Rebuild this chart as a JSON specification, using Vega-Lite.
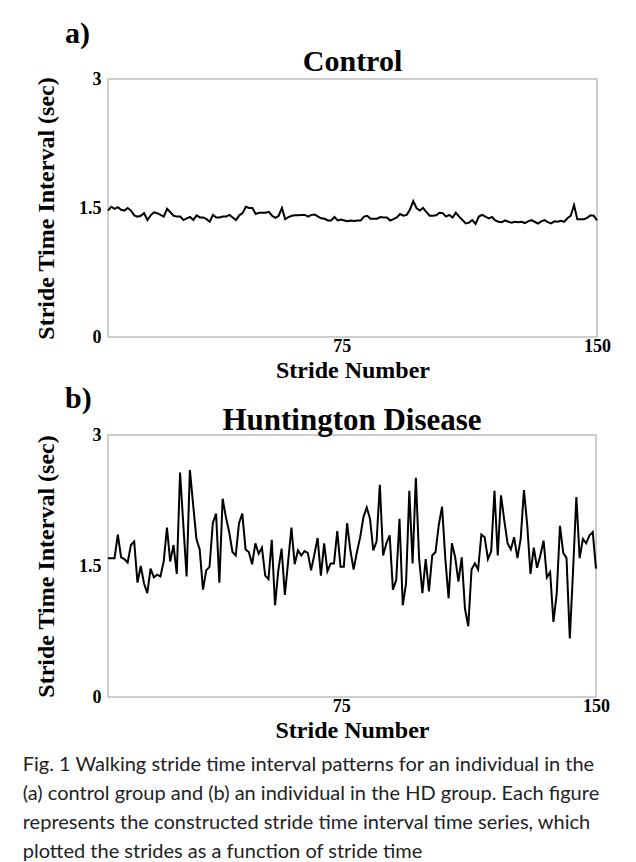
{
  "$schema": "https://vega.github.io/schema/vega-lite/v6.json",
  "background": "white",
  "padding": {"left": 22, "top": 18, "right": 0, "bottom": 0},
  "title": {
    "text": ["Fig. 1 Walking stride time interval patterns for an individual in the", "(a) control group and (b) an individual in the HD group. Each figure", "represents the constructed stride time interval time series, which", "plotted the strides as a function of stride time"],
    "orient": "bottom", "anchor": "start", "frame": "bounds", "font": "Lato", "fontSize": 20, "fontWeight": "normal", "color": "#222", "lineHeight": 29, "dx": -11, "offset": 12
  },
  "config": {
    "font": "Liberation Serif",
    "view": {"stroke": "#bdbdbd", "strokeWidth": 1.5},
    "axis": {"grid": false, "ticks": false, "domain": false, "labelFont": "Liberation Serif", "labelFontWeight": "bold", "labelFontSize": 18, "labelColor": "black", "titleFont": "Liberation Serif", "titleFontWeight": "bold", "titleFontSize": 24, "titleColor": "black"},
    "axisY": {"labelPadding": 7, "titlePadding": 20, "format": "~g"},
    "axisX": {"labelPadding": 0, "titlePadding": 3, "labelFlush": false},
    "title": {"font": "Liberation Serif", "fontWeight": "bold", "fontSize": 30, "color": "black", "anchor": "start", "frame": "group", "dx": -43, "offset": -2}
  },
  "spacing": 0,
  "datasets": {
    "control": [
      {"stride":1,"sec":1.47},{"stride":2,"sec":1.515},{"stride":3,"sec":1.49},{"stride":4,"sec":1.51},{"stride":5,"sec":1.48},{"stride":6,"sec":1.47},{"stride":7,"sec":1.5},{"stride":8,"sec":1.47},{"stride":9,"sec":1.415},{"stride":10,"sec":1.4},
      {"stride":11,"sec":1.41},{"stride":12,"sec":1.44},{"stride":13,"sec":1.36},{"stride":14,"sec":1.415},{"stride":15,"sec":1.45},{"stride":16,"sec":1.44},{"stride":17,"sec":1.42},{"stride":18,"sec":1.4},{"stride":19,"sec":1.49},{"stride":20,"sec":1.45},
      {"stride":21,"sec":1.41},{"stride":22,"sec":1.4},{"stride":23,"sec":1.4},{"stride":24,"sec":1.36},{"stride":25,"sec":1.38},{"stride":26,"sec":1.395},{"stride":27,"sec":1.36},{"stride":28,"sec":1.415},{"stride":29,"sec":1.39},{"stride":30,"sec":1.39},
      {"stride":31,"sec":1.37},{"stride":32,"sec":1.34},{"stride":33,"sec":1.42},{"stride":34,"sec":1.39},{"stride":35,"sec":1.39},{"stride":36,"sec":1.4},{"stride":37,"sec":1.4},{"stride":38,"sec":1.42},{"stride":39,"sec":1.39},{"stride":40,"sec":1.36},
      {"stride":41,"sec":1.415},{"stride":42,"sec":1.44},{"stride":43,"sec":1.515},{"stride":44,"sec":1.5},{"stride":45,"sec":1.5},{"stride":46,"sec":1.43},{"stride":47,"sec":1.445},{"stride":48,"sec":1.445},{"stride":49,"sec":1.445},{"stride":50,"sec":1.455},
      {"stride":51,"sec":1.41},{"stride":52,"sec":1.385},{"stride":53,"sec":1.41},{"stride":54,"sec":1.5},{"stride":55,"sec":1.37},{"stride":56,"sec":1.395},{"stride":57,"sec":1.41},{"stride":58,"sec":1.415},{"stride":59,"sec":1.415},{"stride":60,"sec":1.42},
      {"stride":61,"sec":1.42},{"stride":62,"sec":1.4},{"stride":63,"sec":1.42},{"stride":64,"sec":1.425},{"stride":65,"sec":1.4},{"stride":66,"sec":1.38},{"stride":67,"sec":1.375},{"stride":68,"sec":1.355},{"stride":69,"sec":1.355},{"stride":70,"sec":1.395},
      {"stride":71,"sec":1.355},{"stride":72,"sec":1.365},{"stride":73,"sec":1.355},{"stride":74,"sec":1.345},{"stride":75,"sec":1.355},{"stride":76,"sec":1.35},{"stride":77,"sec":1.355},{"stride":78,"sec":1.355},{"stride":79,"sec":1.4},{"stride":80,"sec":1.41},
      {"stride":81,"sec":1.375},{"stride":82,"sec":1.375},{"stride":83,"sec":1.375},{"stride":84,"sec":1.395},{"stride":85,"sec":1.39},{"stride":86,"sec":1.39},{"stride":87,"sec":1.355},{"stride":88,"sec":1.37},{"stride":89,"sec":1.39},{"stride":90,"sec":1.43},
      {"stride":91,"sec":1.41},{"stride":92,"sec":1.42},{"stride":93,"sec":1.48},{"stride":94,"sec":1.58},{"stride":95,"sec":1.5},{"stride":96,"sec":1.47},{"stride":97,"sec":1.5},{"stride":98,"sec":1.455},{"stride":99,"sec":1.41},{"stride":100,"sec":1.41},
      {"stride":101,"sec":1.415},{"stride":102,"sec":1.445},{"stride":103,"sec":1.44},{"stride":104,"sec":1.4},{"stride":105,"sec":1.42},{"stride":106,"sec":1.39},{"stride":107,"sec":1.445},{"stride":108,"sec":1.4},{"stride":109,"sec":1.36},{"stride":110,"sec":1.32},
      {"stride":111,"sec":1.33},{"stride":112,"sec":1.36},{"stride":113,"sec":1.315},{"stride":114,"sec":1.4},{"stride":115,"sec":1.42},{"stride":116,"sec":1.4},{"stride":117,"sec":1.38},{"stride":118,"sec":1.395},{"stride":119,"sec":1.355},{"stride":120,"sec":1.34},
      {"stride":121,"sec":1.335},{"stride":122,"sec":1.355},{"stride":123,"sec":1.34},{"stride":124,"sec":1.33},{"stride":125,"sec":1.34},{"stride":126,"sec":1.335},{"stride":127,"sec":1.34},{"stride":128,"sec":1.325},{"stride":129,"sec":1.345},{"stride":130,"sec":1.36},
      {"stride":131,"sec":1.34},{"stride":132,"sec":1.32},{"stride":133,"sec":1.345},{"stride":134,"sec":1.36},{"stride":135,"sec":1.335},{"stride":136,"sec":1.32},{"stride":137,"sec":1.345},{"stride":138,"sec":1.34},{"stride":139,"sec":1.35},{"stride":140,"sec":1.34},
      {"stride":141,"sec":1.38},{"stride":142,"sec":1.41},{"stride":143,"sec":1.535},{"stride":144,"sec":1.37},{"stride":145,"sec":1.37},{"stride":146,"sec":1.37},{"stride":147,"sec":1.385},{"stride":148,"sec":1.415},{"stride":149,"sec":1.41},{"stride":150,"sec":1.355}
    ],
    "hd": [
      {"stride":1,"sec":1.59},{"stride":2,"sec":1.59},{"stride":3,"sec":1.59},{"stride":4,"sec":1.86},{"stride":5,"sec":1.6},{"stride":6,"sec":1.58},{"stride":7,"sec":1.54},{"stride":8,"sec":1.74},{"stride":9,"sec":1.78},{"stride":10,"sec":1.31},
      {"stride":11,"sec":1.5},{"stride":12,"sec":1.3},{"stride":13,"sec":1.19},{"stride":14,"sec":1.47},{"stride":15,"sec":1.37},{"stride":16,"sec":1.4},{"stride":17,"sec":1.38},{"stride":18,"sec":1.55},{"stride":19,"sec":1.94},{"stride":20,"sec":1.55},
      {"stride":21,"sec":1.74},{"stride":22,"sec":1.41},{"stride":23,"sec":2.57},{"stride":24,"sec":1.97},{"stride":25,"sec":1.38},{"stride":26,"sec":2.6},{"stride":27,"sec":2.2},{"stride":28,"sec":1.81},{"stride":29,"sec":1.69},{"stride":30,"sec":1.23},
      {"stride":31,"sec":1.45},{"stride":32,"sec":1.49},{"stride":33,"sec":1.99},{"stride":34,"sec":2.1},{"stride":35,"sec":1.31},{"stride":36,"sec":2.27},{"stride":37,"sec":2.06},{"stride":38,"sec":1.89},{"stride":39,"sec":1.66},{"stride":40,"sec":1.62},
      {"stride":41,"sec":1.99},{"stride":42,"sec":2.1},{"stride":43,"sec":1.69},{"stride":44,"sec":1.66},{"stride":45,"sec":1.52},{"stride":46,"sec":1.76},{"stride":47,"sec":1.64},{"stride":48,"sec":1.71},{"stride":49,"sec":1.39},{"stride":50,"sec":1.35},
      {"stride":51,"sec":1.8},{"stride":52,"sec":1.05},{"stride":53,"sec":1.45},{"stride":54,"sec":1.7},{"stride":55,"sec":1.17},{"stride":56,"sec":1.55},{"stride":57,"sec":1.94},{"stride":58,"sec":1.52},{"stride":59,"sec":1.68},{"stride":60,"sec":1.62},
      {"stride":61,"sec":1.67},{"stride":62,"sec":1.65},{"stride":63,"sec":1.45},{"stride":64,"sec":1.63},{"stride":65,"sec":1.82},{"stride":66,"sec":1.39},{"stride":67,"sec":1.76},{"stride":68,"sec":1.44},{"stride":69,"sec":1.53},{"stride":70,"sec":1.53},
      {"stride":71,"sec":1.9},{"stride":72,"sec":1.49},{"stride":73,"sec":1.49},{"stride":74,"sec":1.99},{"stride":75,"sec":1.68},{"stride":76,"sec":1.46},{"stride":77,"sec":1.66},{"stride":78,"sec":1.83},{"stride":79,"sec":2.06},{"stride":80,"sec":2.17},
      {"stride":81,"sec":2.04},{"stride":82,"sec":1.68},{"stride":83,"sec":1.78},{"stride":84,"sec":2.43},{"stride":85,"sec":1.62},{"stride":86,"sec":1.76},{"stride":87,"sec":1.85},{"stride":88,"sec":1.23},{"stride":89,"sec":1.34},{"stride":90,"sec":2.04},
      {"stride":91,"sec":1.05},{"stride":92,"sec":1.3},{"stride":93,"sec":2.36},{"stride":94,"sec":1.53},{"stride":95,"sec":2.51},{"stride":96,"sec":1.58},{"stride":97,"sec":1.19},{"stride":98,"sec":1.58},{"stride":99,"sec":1.21},{"stride":100,"sec":1.62},
      {"stride":101,"sec":1.66},{"stride":102,"sec":1.97},{"stride":103,"sec":2.18},{"stride":104,"sec":1.58},{"stride":105,"sec":1.13},{"stride":106,"sec":1.76},{"stride":107,"sec":1.6},{"stride":108,"sec":1.32},{"stride":109,"sec":1.6},{"stride":110,"sec":1.01},
      {"stride":111,"sec":0.81},{"stride":112,"sec":1.46},{"stride":113,"sec":1.53},{"stride":114,"sec":1.46},{"stride":115,"sec":1.86},{"stride":116,"sec":1.83},{"stride":117,"sec":1.58},{"stride":118,"sec":1.67},{"stride":119,"sec":2.36},{"stride":120,"sec":1.62},
      {"stride":121,"sec":2.31},{"stride":122,"sec":2.02},{"stride":123,"sec":1.76},{"stride":124,"sec":1.69},{"stride":125,"sec":1.83},{"stride":126,"sec":1.59},{"stride":127,"sec":1.81},{"stride":128,"sec":2.37},{"stride":129,"sec":1.97},{"stride":130,"sec":1.41},
      {"stride":131,"sec":1.71},{"stride":132,"sec":1.48},{"stride":133,"sec":1.62},{"stride":134,"sec":1.79},{"stride":135,"sec":1.37},{"stride":136,"sec":1.43},{"stride":137,"sec":0.86},{"stride":138,"sec":1.18},{"stride":139,"sec":1.96},{"stride":140,"sec":1.65},
      {"stride":141,"sec":1.59},{"stride":142,"sec":0.67},{"stride":143,"sec":1.45},{"stride":144,"sec":2.29},{"stride":145,"sec":1.59},{"stride":146,"sec":1.81},{"stride":147,"sec":1.76},{"stride":148,"sec":1.85},{"stride":149,"sec":1.89},{"stride":150,"sec":1.47}
    ]
  },
  "vconcat": [
    {
      "width": 489, "height": 258,
      "title": {"text": "a)", "offset": -2},
      "layer": [
        {
          "data": {"name": "control"},
          "mark": {"type": "line", "color": "black", "strokeWidth": 2},
          "encoding": {
            "x": {"field": "stride", "type": "quantitative", "scale": {"domain": [1, 150], "nice": false, "zero": false}, "axis": {"values": [75, 150], "title": "Stride Number", "labelAlign": {"condition": {"test": "datum.value === 75", "value": "right"}, "value": "center"}}},
            "y": {"field": "sec", "type": "quantitative", "scale": {"domain": [0, 3], "nice": false}, "axis": {"values": [0, 1.5, 3], "title": "Stride Time Interval (sec)"}}
          }
        },
        {
          "data": {"values": [{"panel": "Control"}]},
          "mark": {"type": "text", "font": "Liberation Serif", "fontWeight": "bold", "fontSize": 30, "dy": -17, "baseline": "middle", "color": "black"},
          "encoding": {
            "x": {"datum": 75.5, "type": "quantitative"},
            "y": {"datum": 3, "type": "quantitative"},
            "text": {"field": "panel"}
          }
        }
      ]
    },
    {
      "width": 488, "height": 262,
      "title": {"text": "b)", "offset": -9},
      "layer": [
        {
          "data": {"name": "hd"},
          "mark": {"type": "line", "color": "black", "strokeWidth": 2},
          "encoding": {
            "x": {"field": "stride", "type": "quantitative", "scale": {"domain": [1, 150], "nice": false, "zero": false}, "axis": {"values": [75, 150], "title": "Stride Number", "labelAlign": {"condition": {"test": "datum.value === 75", "value": "right"}, "value": "center"}}},
            "y": {"field": "sec", "type": "quantitative", "scale": {"domain": [0, 3], "nice": false}, "axis": {"values": [0, 1.5, 3], "title": "Stride Time Interval (sec)"}}
          }
        },
        {
          "data": {"values": [{"panel": "Huntington Disease"}]},
          "mark": {"type": "text", "font": "Liberation Serif", "fontWeight": "bold", "fontSize": 31, "dy": -14, "baseline": "middle", "color": "black"},
          "encoding": {
            "x": {"datum": 75.5, "type": "quantitative"},
            "y": {"datum": 3, "type": "quantitative"},
            "text": {"field": "panel"}
          }
        }
      ]
    }
  ]
}
